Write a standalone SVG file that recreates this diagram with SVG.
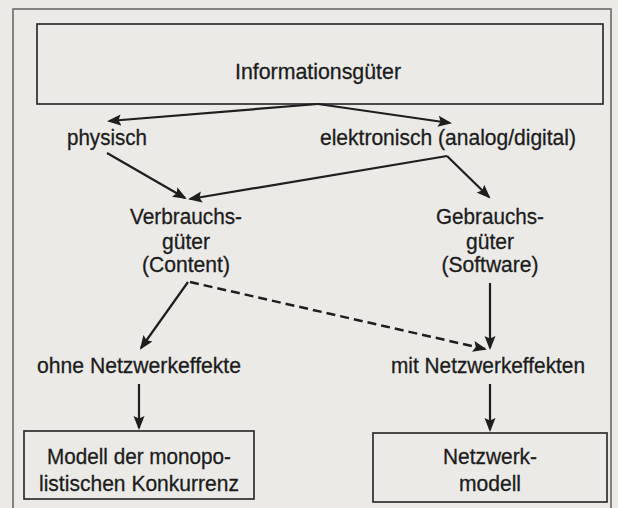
<svg xmlns="http://www.w3.org/2000/svg" width="618" height="508" viewBox="0 0 618 508">
<defs>
<marker id="ah" markerUnits="userSpaceOnUse" markerWidth="16" markerHeight="12" refX="12" refY="6" orient="auto">
<path d="M0,0.5 L14,6 L0,11.5 L2.5,6 z" fill="#1e1e1e"/>
</marker>
</defs>
<style>
text{font-family:"Liberation Sans",Arial,sans-serif;font-size:22px;fill:#1c1c1c;stroke:#1c1c1c;stroke-width:0.3;text-anchor:middle}
.box{fill:none;stroke:#2e2e2e;stroke-width:1.7}
.frame{fill:none;stroke:#6a6a6a;stroke-width:1.6}
.c{stroke:#1e1e1e;stroke-width:2.2;fill:none;marker-end:url(#ah)}
.d{stroke-dasharray:9 5;stroke-width:2.5}
</style>
<rect x="0" y="0" width="618" height="508" fill="#ebeae7"/>
<rect class="frame" x="13" y="9" width="598" height="520"/>
<g id="informationsgueter">
<rect class="box" x="37" y="24" width="566" height="80"/>
<text x="318" y="79" textLength="166" lengthAdjust="spacingAndGlyphs">Informationsgüter</text>
</g>
<g id="physisch"><text x="107" y="145" textLength="80" lengthAdjust="spacingAndGlyphs">physisch</text></g>
<g id="elektronisch"><text x="448" y="145" textLength="256" lengthAdjust="spacingAndGlyphs">elektronisch (analog/digital)</text></g>
<g id="verbrauchsgueter">
<text x="186" y="224" textLength="112" lengthAdjust="spacingAndGlyphs">Verbrauchs-</text>
<text x="186" y="249" textLength="48" lengthAdjust="spacingAndGlyphs">güter</text>
<text x="186" y="272" textLength="88" lengthAdjust="spacingAndGlyphs">(Content)</text>
</g>
<g id="gebrauchsgueter">
<text x="490" y="224" textLength="108" lengthAdjust="spacingAndGlyphs">Gebrauchs-</text>
<text x="490" y="249" textLength="48" lengthAdjust="spacingAndGlyphs">güter</text>
<text x="490" y="272" textLength="97" lengthAdjust="spacingAndGlyphs">(Software)</text>
</g>
<g id="ohne"><text x="139" y="373" textLength="204" lengthAdjust="spacingAndGlyphs">ohne Netzwerkeffekte</text></g>
<g id="mit"><text x="488" y="373" textLength="194" lengthAdjust="spacingAndGlyphs">mit Netzwerkeffekten</text></g>
<g id="monopolistisch">
<rect class="box" x="24" y="431" width="230" height="68"/>
<text x="139" y="464" textLength="184" lengthAdjust="spacingAndGlyphs">Modell der monopo-</text>
<text x="139" y="491" textLength="200" lengthAdjust="spacingAndGlyphs">listischen Konkurrenz</text>
</g>
<g id="netzwerkmodell">
<rect class="box" x="373" y="433" width="234" height="69"/>
<text x="490" y="464" textLength="94" lengthAdjust="spacingAndGlyphs">Netzwerk-</text>
<text x="490" y="491" textLength="62" lengthAdjust="spacingAndGlyphs">modell</text>
</g>
<g id="connectors">
<path class="c" d="M318,104 L109,121"/>
<path class="c" d="M318,104 L450,123"/>
<path class="c" d="M107,153 L185,198"/>
<path class="c" d="M447,156 L190,199"/>
<path class="c" d="M447,156 L489,197"/>
<path class="c" d="M188,282 L141,348"/>
<path class="c d" d="M190,282 L485,349"/>
<path class="c" d="M490,283 L490,348"/>
<path class="c" d="M139,384 L139,428"/>
<path class="c" d="M490,384 L490,430"/>
</g>
</svg>
